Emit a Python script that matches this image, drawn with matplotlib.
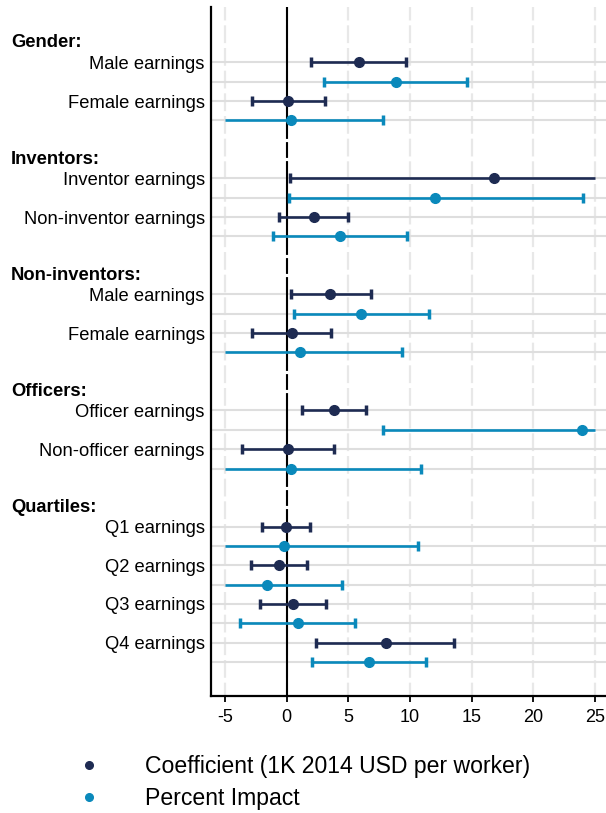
import matplotlib
matplotlib.use('Agg')
import matplotlib.pyplot as plt
from matplotlib.lines import Line2D
from matplotlib.transforms import blended_transform_factory

plt.rcParams['font.family'] = ['Liberation Sans', 'DejaVu Sans']

# 데이터
groups = ['Gender:', 'Inventors:', 'Non-inventors:', 'Officers:', 'Quartiles:']
rows = [
    ['Male earnings', 'Female earnings'],
    ['Inventor earnings', 'Non-inventor earnings'],
    ['Male earnings', 'Female earnings'],
    ['Officer earnings', 'Non-officer earnings'],
    ['Q1 earnings', 'Q2 earnings', 'Q3 earnings', 'Q4 earnings'],
]

coef = [5.85, 0.1, 16.8, 2.2, 3.55, 0.4, 3.8, 0.1, -0.05, -0.6, 0.5, 8.05]
coef_lo = [1.95, -2.8, 0.25, -0.6, 0.35, -2.8, 1.25, -3.6, -2.0, -2.9, -2.2, 2.4]
coef_hi = [9.65, 3.1, 25.0, 5.0, 6.85, 3.6, 6.4, 3.85, 1.9, 1.65, 3.15, 13.6]

pct = [8.85, 0.35, 12.05, 4.3, 6.05, 1.05, 23.95, 0.35, -0.25, -1.6, 0.9, 6.7]
pct_lo = [3.0, -5.0, 0.2, -1.1, 0.6, -5.0, 7.8, -5.0, -5.0, -5.0, -3.75, 2.05]
pct_hi = [14.6, 7.8, 24.05, 9.75, 11.5, 9.35, 25.0, 10.9, 10.65, 4.5, 5.55, 11.3]

xticks = [-5, 0, 5, 10, 15, 20, 25]
CLIP_LO, CLIP_HI = -5, 25

NAVY = '#1e2b52'
TEAL = '#0a89bb'

# 행 위치 계산
header_pos = []
label_pos = []
label_txt = []
coef_pos = []
pct_pos = []
sep_pos = []
p = 0
for g, rr in zip(groups, rows):
    header_pos.append(p)
    if p > 0:
        sep_pos.append(p)
    p += 1
    for r in rr:
        label_pos.append(p)
        label_txt.append(r)
        coef_pos.append(p)
        pct_pos.append(p + 1)
        p += 2
    sep_pos.append(p)
    p += 1
sep_pos = sep_pos[:-1]

fig = plt.figure(figsize=(6.06, 8.13), dpi=100)
ax = fig.add_axes([211 / 606, 117 / 813, 395 / 606, 689 / 813])

ax.set_xlim(-6.135, 25.89)
ax.set_ylim(33.76, -1.86)

# 격자선
for xt in xticks:
    ax.axvline(xt, color='#e8e8e8', lw=1.6, ls=(2, (8, 2.2)), zorder=0)
ax.hlines(coef_pos + pct_pos, -6.135, 25.89, color='#dedede', lw=1.5, zorder=1)

# 0 기준선
ax.axvline(0, color='black', lw=1.5, zorder=2)
ax.hlines(sep_pos, -0.4, 0.4, color='white', lw=2.3, zorder=3)


def draw_series(pos, mid, lo, hi, color):
    ax.hlines(pos, lo, hi, color=color, lw=1.9, zorder=4)
    for y, a, b in zip(pos, lo, hi):
        if a > CLIP_LO:
            ax.plot(a, y, marker='|', ms=6.5, mew=2.5, color=color, zorder=5)
        if b < CLIP_HI:
            ax.plot(b, y, marker='|', ms=6.5, mew=2.5, color=color, zorder=5)
    ax.plot(mid, pos, 'o', ms=7, color=color, ls='none', zorder=6)


draw_series(coef_pos, coef, coef_lo, coef_hi, NAVY)
draw_series(pct_pos, pct, pct_lo, pct_hi, TEAL)

# 축 설정
ax.set_xticks(xticks)
ax.set_xticklabels([str(v) for v in xticks])
ax.set_yticks(label_pos)
ax.set_yticklabels(label_txt, fontsize=13.2)
ax.tick_params(axis='y', length=0, pad=4.5)
ax.tick_params(axis='x', labelsize=13, length=4, width=1.3, pad=5)
for s in ['top', 'right']:
    ax.spines[s].set_visible(False)
ax.spines['left'].set_linewidth(1.6)
ax.spines['bottom'].set_linewidth(1.6)

# 그룹 제목
tr = blended_transform_factory(fig.transFigure, ax.transData)
for g, y in zip(groups, header_pos):
    ax.text(11 / 606, y, g, transform=tr, ha='left', va='center',
            fontsize=13.2, fontweight='bold', clip_on=False)

# 범례
handles = [
    Line2D([], [], marker='o', ls='none', color=NAVY, ms=5.5),
    Line2D([], [], marker='o', ls='none', color=TEAL, ms=5.5),
]
fig.legend(handles, ['Coefficient (1K 2014 USD per worker)', 'Percent Impact'],
           loc='upper left', bbox_to_anchor=(77 / 606, 1 - 755 / 813),
           frameon=False, fontsize=16.6, handlelength=1.0, handletextpad=1.95,
           borderpad=0, borderaxespad=0, labelspacing=0.4)

fig.savefig('out.png', dpi=100)
